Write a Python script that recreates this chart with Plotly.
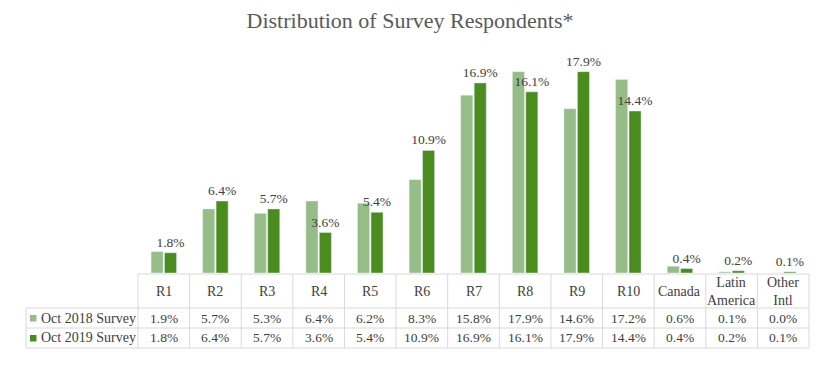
import plotly.graph_objects as go

categories = ["R1", "R2", "R3", "R4", "R5", "R6", "R7", "R8", "R9", "R10",
              "Canada", "Latin America", "Other Intl"]
header_labels = ["R1", "R2", "R3", "R4", "R5", "R6", "R7", "R8", "R9", "R10",
                 "Canada", "Latin<br>America", "Other<br>Intl"]
series_names = ["Oct 2018 Survey", "Oct 2019 Survey"]
oct2018 = [1.9, 5.7, 5.3, 6.4, 6.2, 8.3, 15.8, 17.9, 14.6, 17.2, 0.6, 0.1, 0.0]
oct2019 = [1.8, 6.4, 5.7, 3.6, 5.4, 10.9, 16.9, 16.1, 17.9, 14.4, 0.4, 0.2, 0.1]

FONT = "Liberation Serif"
LIGHT = "#96BD87"
DARK = "#4A8C1E"
TXT = "#404040"
GRID = "#D9D9D9"

OFF = 8  # page body margin offset
W, H = 830 - OFF, 370 - OFF
ML, MT = 138 - OFF, 48 - OFF
BASE = 273 - OFF
RIGHT = 809 - OFF
MB = H - BASE
MR = W - RIGHT
PH = H - MT - MB
PW = W - ML - MR

def py(pix):  # reference pixel y (from top) -> paper y
    return (BASE - (pix - OFF)) / PH

def px(pix):
    return ((pix - OFF) - ML) / PW

fig = go.Figure()
fig.add_trace(go.Bar(x=categories, y=oct2018, name=series_names[0],
                     marker_color=LIGHT, showlegend=False))
fig.add_trace(go.Bar(x=categories, y=oct2019, name=series_names[1],
                     marker_color=DARK, showlegend=False,
                     texttemplate="%{y:.1f}%", textposition="outside",
                     constraintext="none",
                     textfont=dict(family=FONT, size=13.5, color=TXT),
                     cliponaxis=False))

shapes = []
n = len(categories)
line = dict(color=GRID, width=1)
y_top, y_h, y_r1, y_r2 = py(274), py(308), py(328), py(348)
shapes.append(dict(type="line", xref="paper", yref="paper", x0=0, x1=1, y0=y_top, y1=y_top, line=line))
for yy in (y_h, y_r1, y_r2):
    shapes.append(dict(type="line", xref="paper", yref="paper", x0=px(26), x1=1, y0=yy, y1=yy, line=line))
for i in range(n + 1):
    shapes.append(dict(type="line", xref="paper", yref="paper", x0=i / n, x1=i / n,
                       y0=y_top, y1=y_r2, line=line))
shapes.append(dict(type="line", xref="paper", yref="paper", x0=px(26), x1=px(26),
                   y0=y_h, y1=y_r2, line=line))
for yc, col in ((318, LIGHT), (338, DARK)):
    shapes.append(dict(type="rect", xref="paper", yref="paper", x0=px(30), x1=px(36.5),
                       y0=py(yc + 3.5), y1=py(yc - 3), fillcolor=col, line=dict(width=0)))

ann = []
for cat, lab in zip(categories, header_labels):
    ann.append(dict(x=cat, xref="x", y=py(291), yref="paper", text=lab, showarrow=False,
                    font=dict(family=FONT, size=14, color=TXT), yanchor="middle",
                    xanchor="center"))
for vals, yc in ((oct2018, 318), (oct2019, 338)):
    for cat, v in zip(categories, vals):
        ann.append(dict(x=cat, xref="x", y=py(yc), yref="paper", text=f"{v:.1f}%",
                        showarrow=False, font=dict(family=FONT, size=13.5, color=TXT),
                        yanchor="middle", xanchor="center"))
for name, yc in zip(series_names, (318, 338)):
    ann.append(dict(x=px(39), xref="paper", y=py(yc), yref="paper", text=name,
                    showarrow=False, font=dict(family=FONT, size=14, color=TXT),
                    yanchor="middle", xanchor="left"))

fig.update_layout(
    width=W, height=H,
    margin=dict(l=ML, r=MR, t=MT, b=MB),
    paper_bgcolor="white", plot_bgcolor="white",
    title=dict(text="Distribution of Survey Respondents*", x=(410 - OFF) / W, xanchor="center",
               y=1 - (20 - OFF) / H, yanchor="middle",
               font=dict(family=FONT, size=22, color="#595959")),
    barmode="group", bargap=0.48, bargroupgap=0.1,
    xaxis=dict(showticklabels=False, showgrid=False, zeroline=False, showline=False,
               ticks=""),
    yaxis=dict(range=[0, 20], visible=False),
    shapes=shapes, annotations=ann,
)
fig.write_html("out.html")
